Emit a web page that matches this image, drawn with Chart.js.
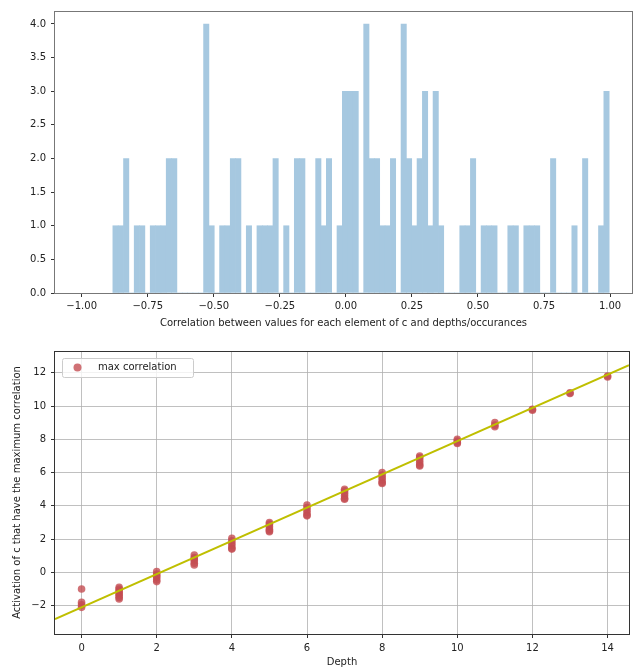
<!DOCTYPE html>
<html>
<head>
<meta charset="utf-8">
<script src="https://cdn.jsdelivr.net/npm/chart.js@4"></script>
<style>
  body { margin: 0; background: #fff; }
  canvas { display: block; }
</style>
</head>
<body>
<canvas id="histChart" width="633" height="335"></canvas>
<canvas id="depthChart" width="633" height="333"></canvas>
<script>
// histogram of correlations (93 equal bins)
const binStart = -0.882;
const binWidth = 0.0202;
const binCounts = [
  1, 1, 2, 0, 1, 1, 0, 1, 1, 1,
  2, 2, 0, 0, 0, 0, 0, 4, 1, 0,
  1, 1, 2, 2, 0, 1, 0, 1, 1, 1,
  2, 0, 1, 0, 2, 2, 0, 0, 2, 1,
  2, 0, 1, 3, 3, 3, 0, 4, 2, 2,
  1, 1, 2, 0, 4, 2, 1, 2, 3, 1,
  3, 1, 0, 0, 0, 1, 1, 2, 0, 1,
  1, 1, 0, 0, 1, 1, 0, 1, 1, 1,
  0, 0, 2, 0, 0, 0, 1, 0, 2, 0,
  0, 1, 3
];
const histXTicks = [-1, -0.75, -0.5, -0.25, 0, 0.25, 0.5, 0.75, 1];
const histYTicks = [0, 0.5, 1, 1.5, 2, 2.5, 3, 3.5, 4];

// max correlation activation vs depth
const depths = [
  0, 0, 0, 0,
  1, 1, 1, 1, 1, 1, 1, 1,
  2, 2, 2, 2, 2, 2,
  3, 3, 3, 3, 3, 3,
  4, 4, 4, 4, 4, 4,
  5, 5, 5, 5, 5, 5,
  6, 6, 6, 6, 6, 6,
  7, 7, 7, 7, 7, 7,
  8, 8, 8, 8, 8, 8,
  9, 9, 9, 9, 9, 9,
  10, 10, 10, 10,
  11, 11, 11,
  12, 12,
  13, 13,
  14, 14
];
const activations = [
  -1.0, -1.8, -1.95, -2.1,
  -0.9, -1.0, -1.1, -1.2, -1.3, -1.4, -1.5, -1.6,
  0.05, -0.1, -0.2, -0.3, -0.45, -0.55,
  1.05, 0.9, 0.8, 0.7, 0.55, 0.45,
  2.05, 1.9, 1.75, 1.6, 1.45, 1.4,
  3.0, 2.9, 2.75, 2.6, 2.5, 2.45,
  4.05, 3.9, 3.75, 3.6, 3.45, 3.4,
  5.0, 4.9, 4.75, 4.6, 4.45, 4.4,
  6.0, 5.85, 5.7, 5.55, 5.4, 5.35,
  7.0, 6.9, 6.75, 6.6, 6.45, 6.4,
  8.0, 7.9, 7.8, 7.75,
  9.0, 8.85, 8.75,
  9.8, 9.75,
  10.8, 10.75,
  11.8, 11.75
];
const fitLineX = [-0.707, 14.57];
const fitLineY = [-2.81, 12.45];
const depthXTicks = [0, 2, 4, 6, 8, 10, 12, 14];
const depthYTicks = [-2, 0, 2, 4, 6, 8, 10, 12];

const FONT = { family: 'DejaVu Sans', size: 10 };
const TEXT = '#222';

function fmt(v, d) {
  return (v < 0 ? '\u2212' : '') + Math.abs(v).toFixed(d);
}

// box around the plot area, like matplotlib spines
const frame = {
  id: 'frame',
  afterDatasetsDraw(chart, args, opts) {
    const { ctx, chartArea: a } = chart;
    ctx.save();
    ctx.strokeStyle = opts.color;
    ctx.lineWidth = 1;
    ctx.strokeRect(a.left - 0.5, a.top + 0.5, a.right - a.left + 1, a.bottom - a.top);
    ctx.restore();
  }
};

// legend drawn inside the axes, top-left
const boxLegend = {
  id: 'boxLegend',
  afterDraw(chart) {
    const ds = chart.data.datasets[0];
    const { ctx, chartArea: a } = chart;
    const x = a.left + 7, y = a.top + 7, w = 131, h = 19, r = 2;
    ctx.save();
    ctx.fillStyle = 'rgba(255,255,255,0.8)';
    ctx.strokeStyle = '#cccccc';
    ctx.lineWidth = 1;
    ctx.beginPath();
    ctx.roundRect(x + 0.5, y + 0.5, w, h, r);
    ctx.fill();
    ctx.stroke();
    ctx.fillStyle = ds.backgroundColor;
    ctx.beginPath();
    ctx.arc(x + 15.5, y + 9.5, 4, 0, Math.PI * 2);
    ctx.fill();
    ctx.fillStyle = TEXT;
    ctx.font = '10px "DejaVu Sans"';
    ctx.textBaseline = 'middle';
    ctx.fillText(ds.label, x + 36, y + 9.5);
    ctx.restore();
  }
};

const histData = binCounts.map((c, i) => ({ x: binStart + (i + 0.5) * binWidth, y: c }));

new Chart(document.getElementById('histChart'), {
  type: 'bar',
  data: {
    datasets: [{
      data: histData,
      backgroundColor: '#a6c8e0',
      borderWidth: 0,
      barPercentage: 1,
      categoryPercentage: 1
    }]
  },
  options: {
    responsive: false,
    animation: false,
    layout: { padding: { top: 11, right: 1, left: 0, bottom: 0 } },
    plugins: { legend: { display: false }, tooltip: { enabled: false }, frame: { color: '#777' } },
    scales: {
      x: {
        type: 'linear',
        offset: false,
        min: -1.101,
        max: 1.083,
        afterBuildTicks: s => { s.ticks = histXTicks.map(v => ({ value: v })); },
        afterFit: s => { s.height = 42; },
        grid: { offset: false, drawOnChartArea: false, tickLength: 4, tickColor: '#333' },
        border: { display: false },
        ticks: { font: FONT, color: TEXT, padding: 3, maxRotation: 0, callback: v => fmt(v, 2) },
        title: {
          display: true,
          text: 'Correlation between values for each element of c and depths/occurances',
          font: FONT, color: TEXT, padding: { top: 0, bottom: 6 }
        }
      },
      y: {
        min: 0,
        max: 4.193,
        afterBuildTicks: s => { s.ticks = histYTicks.map(v => ({ value: v })); },
        afterFit: s => { s.width = 55; },
        grid: { drawOnChartArea: false, tickLength: 4, tickColor: '#333' },
        border: { display: false },
        ticks: { font: FONT, color: TEXT, padding: 5, callback: v => fmt(v, 1) }
      }
    }
  },
  plugins: [frame]
});

new Chart(document.getElementById('depthChart'), {
  type: 'scatter',
  data: {
    datasets: [{
      label: 'max correlation',
      data: depths.map((d, i) => ({ x: d, y: activations[i] })),
      backgroundColor: 'rgba(196,78,82,0.8)',
      borderWidth: 0,
      pointRadius: 3.8,
      order: 2
    }, {
      type: 'line',
      data: fitLineX.map((x, i) => ({ x: x, y: fitLineY[i] })),
      borderColor: '#bfbf00',
      borderWidth: 2,
      pointRadius: 0,
      fill: false,
      order: 1
    }]
  },
  options: {
    responsive: false,
    animation: false,
    layout: { padding: { top: 16, right: 1, left: 0, bottom: 0 } },
    plugins: { legend: { display: false }, tooltip: { enabled: false }, frame: { color: '#333' } },
    scales: {
      x: {
        type: 'linear',
        min: -0.707,
        max: 14.57,
        afterBuildTicks: s => { s.ticks = depthXTicks.map(v => ({ value: v })); },
        afterFit: s => { s.height = 34; },
        grid: { color: 'rgba(176,176,176,0.8)', lineWidth: 1, tickLength: 4, tickColor: '#333' },
        border: { display: false },
        ticks: { font: FONT, color: TEXT, padding: 4, maxRotation: 0, callback: v => fmt(v, 0) },
        title: { display: true, text: 'Depth', font: FONT, color: TEXT, padding: { top: 0, bottom: 0 } }
      },
      y: {
        min: -3.70,
        max: 13.305,
        afterBuildTicks: s => { s.ticks = depthYTicks.map(v => ({ value: v })); },
        afterFit: s => { s.width = 55; },
        grid: { color: 'rgba(176,176,176,0.8)', lineWidth: 1, tickLength: 4, tickColor: '#333' },
        border: { display: false },
        ticks: { font: FONT, color: TEXT, padding: 5, callback: v => fmt(v, 0) },
        title: {
          display: true,
          text: 'Activation of c that have the maximum correlation',
          font: FONT, color: TEXT, padding: { top: 11, bottom: 0 }
        }
      }
    }
  },
  plugins: [frame, boxLegend]
});
</script>
</body>
</html>
